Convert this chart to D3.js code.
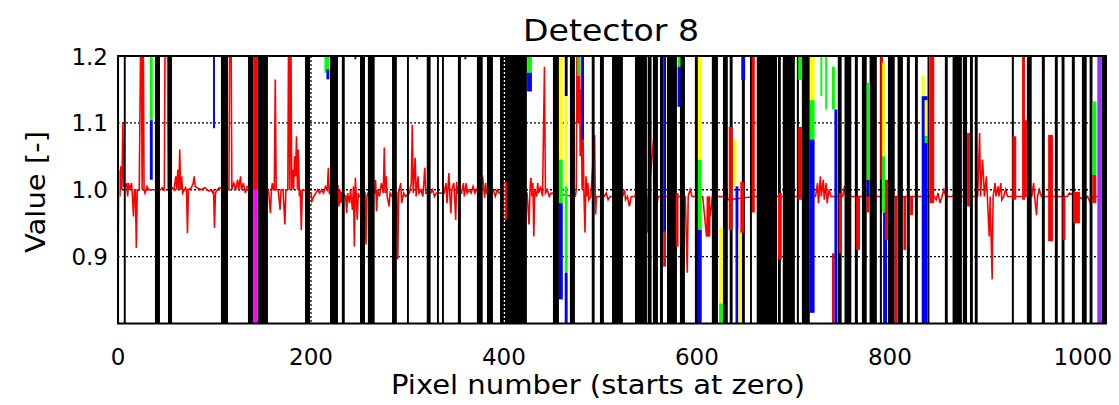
<!DOCTYPE html>
<html><head><meta charset="utf-8">
<script src="https://cdn.jsdelivr.net/npm/d3@7"></script>
<style>body{margin:0;background:#fff}svg{display:block}text{font-family:"DejaVu Sans",sans-serif;fill:#000}</style>
</head><body>
<svg id="c" width="1119" height="405"></svg>
<script>
const titleText = "Detector 8";
const xTitle = "Pixel number (starts at zero)";
const yTitle = "Value [-]";
const xTicks = [0, 200, 400, 600, 800, 1000];
const yTicks = [0.9, 1.0, 1.1, 1.2];
const yTickLabels = ["0.9", "1.0", "1.1", "1.2"];
const gridValues = [0.9, 1.0, 1.1];

// flagged pixel ranges drawn as black bars [start, end]
const badRanges = [[6,8],[38.3,43.5],[51.8,56],[106.7,114],[134.7,140],[145,155.4],[193.8,199],[219.7,228],[232,235],[250.8,256],[259,266],[284,289],[299.5,301.5],[320,324],[330.6,332.6],[335.8,337.8],[352.3,355.4],[372,378],[382.4,388.6],[395.9,423.8],[450.8,457],[468.4,473.6],[491,494],[499.5,503.6],[512,523.3],[535.8,548.2],[549,553],[554.4,559.6],[561.7,564.8],[569,579.3],[582.4,587.6],[597.9,601],[615.5,621.8],[627,632],[634,637],[646.6,649.7],[655,657],[662,683],[684,687],[689,701.5],[703.6,705.7],[708.8,717],[746,750],[753,760],[763.7,766.8],[771,776],[779,786.5],[789.6,791.7],[798,805],[808,813.5],[817.6,820.7],[826,829],[839,841],[857,860],[865,874.6],[875.6,880],[883,886],[888,891],[926.4,928.5],[942,947],[957.5,960.6],[971,974],[978,981],[988.6,991.7],[999,1004],[1007,1010],[1019.7,1024]];

// main (red) series: [pixel, value]
const redSeries = [[0,0.90],[1,1.03],[2,0.99],[3,1.035],[4,1.0],[5,1.1],[6,1.005],[8,1.005],[9,1.01],[10,0.99],[11,1.01],[12,1.0],[14,1.01],[15,0.99],[16,0.96],[17,1.0],[18,1.0],[19,0.913],[20,1.0],[22,1.0],[24,1.3],[25,1.0],[26,1.3],[27,1.0],[28,0.995],[30,1.005],[32,1.0],[37,1.0],[44,1.0],[46,1.003],[48,1.0],[49,1.3],[51,1.3],[52,1.0],[56,1.003],[58,1.0],[60,1.02],[61,1.0],[62,1.03],[63,1.0],[64,1.06],[65,1.0],[66,1.02],[67,0.995],[70,1.003],[71,1.0],[72,0.935],[73,1.0],[76,1.003],[78,1.01],[79,1.02],[80,1.005],[82,1.003],[86,1.0],[90,1.003],[94,0.998],[96,1.0],[98,0.996],[99,1.0],[100,0.943],[101,0.995],[103,1.0],[105,1.003],[115,1.0],[116,1.3],[117,1.3],[118,1.0],[120,1.01],[122,1.0],[124,1.015],[125,1.0],[127,1.02],[128,1.0],[130,1.01],[132,0.995],[134,1.005],[156,1.0],[158,0.965],[159,1.0],[160,1.01],[161,1.0],[162,1.0],[163,1.165],[164,1.0],[166,1.0],[168,0.97],[169,1.0],[171,1.0],[173,0.948],[174,1.0],[176,1.0],[177,1.3],[178,1.0],[179,1.3],[180,1.0],[181,1.03],[182,1.0],[183,1.05],[184,1.02],[185,1.08],[186,1.0],[187,1.06],[188,0.99],[189,1.0],[190,0.94],[191,1.0],[192,1.0],[200,0.995],[201,0.983],[203,0.99],[205,0.995],[207,1.0],[209,0.995],[211,1.0],[213,0.995],[215,1.005],[217,1.0],[218,1.033],[219,0.995],[228,1.005],[229,0.975],[230,1.0],[231,0.98],[232,0.995],[236,0.99],[237,0.965],[238,0.995],[240,0.98],[241,1.0],[243,0.97],[244,1.005],[245,0.915],[246,1.018],[247,0.99],[248,0.955],[249,0.995],[250,0.99],[256,0.995],[257,0.918],[258,0.99],[259,0.995],[266,0.995],[267,1.015],[268,0.968],[269,1.0],[271,0.99],[273,1.01],[275,0.995],[276,1.063],[277,0.995],[278,1.02],[279,0.99],[281,0.975],[282,0.995],[284,0.99],[289,0.995],[290,0.896],[291,0.995],[293,1.01],[294,0.98],[296,0.995],[298,0.99],[302,0.995],[304,1.01],[305,1.097],[306,0.995],[308,1.048],[309,0.99],[311,1.02],[312,0.995],[314,1.0],[316,0.99],[318,1.033],[319,0.995],[324,0.995],[326,1.0],[328,0.99],[330,0.995],[338,0.995],[340,1.01],[341,0.98],[343,1.025],[344,0.99],[345,0.965],[346,1.0],[348,1.01],[349,0.985],[350,0.955],[351,1.012],[352,0.995],[356,0.995],[358,1.01],[359,0.99],[361,1.01],[362,0.995],[364,1.0],[366,0.995],[368,1.005],[370,0.995],[378,1.018],[380,0.988],[381,1.01],[382,0.995],[389,1.0],[391,0.99],[393,1.0],[395,0.995],[424,0.995],[426,0.948],[427,1.0],[428,1.018],[429,0.99],[430,1.01],[431,0.93],[432,1.0],[434,0.99],[435,1.01],[436,0.995],[438,1.005],[440,0.99],[442,1.184],[443,0.995],[445,1.0],[447,0.99],[449,0.995],[474,0.99],[475,1.0],[476,1.3],[477,1.1],[478,1.3],[479,1.05],[480,1.15],[481,1.0],[482,1.08],[483,0.99],[484,0.936],[485,1.02],[486,0.99],[487,1.01],[488,0.985],[490,0.99],[494,1.082],[495,0.963],[496,0.99],[504,0.99],[506,0.995],[508,0.985],[510,0.99],[523,0.99],[525,1.0],[526,0.985],[528,0.99],[530,0.975],[532,0.99],[536,0.99],[538,1.007],[540,0.99],[544,0.915],[545,0.99],[548,0.995],[549,0.936],[550,0.99],[556,1.09],[558,0.975],[560,0.99],[588,0.99],[590,0.876],[591,0.99],[593,1.0],[595,0.99],[598,0.99],[606,0.99],[610,0.93],[612,0.99],[614,0.96],[616,0.99],[630,0.99],[631,1.0],[632,0.985],[660,0.99],[720,0.99],[723,0.99],[725,1.01],[726,0.98],[728,1.02],[729,0.99],[731,1.015],[732,0.985],[734,1.01],[735,0.98],[737,1.0],[739,0.99],[751,0.99],[753,1.005],[755,0.98],[757,0.99],[760,0.99],[776,0.99],[800,0.99],[846,0.99],[848,0.985],[850,0.995],[852,0.98],[854,0.99],[856,1.0],[858,0.99],[862,0.99],[891,0.99],[893,1.085],[894,0.99],[896,1.045],[897,1.02],[898,0.99],[900,1.02],[901,0.99],[903,0.93],[904,0.99],[906,0.866],[907,0.99],[909,1.01],[910,0.99],[912,1.005],[913,0.99],[915,1.01],[916,0.985],[918,0.99],[920,1.0],[922,0.99],[925,0.99],[947,0.99],[949,1.01],[950,0.99],[952,0.962],[953,0.99],[955,1.0],[957,0.99],[961,0.99],[972,0.99],[975,0.99],[984,0.99],[986,0.995],[1002,0.985],[1005,0.99],[1008,0.98],[1010,0.99],[1024,0.99]];

// other series drawn as vertical segments: [x0, x1, top, bottom, colour key]
const segments = [[-0.5,1.5,1.2,0.8,"Y"],[33,36,1.2,1.104,"G"],[33,36,1.104,1.015,"B"],[98.5,100.5,1.2,1.092,"B"],[140,145,1.2,1.0,"R"],[140,145,1.0,0.8,"M"],[214,219,1.2,1.175,"G"],[216,219,1.18,1.165,"B"],[245,247,1.2,1.195,"B"],[309,311,1.2,1.195,"B"],[359,361,1.2,1.195,"B"],[400,403,1.012,0.955,"R"],[424,429,1.2,1.175,"G"],[424,429,1.175,1.147,"B"],[457,461,1.2,1.045,"Y"],[457,461,1.045,0.98,"G"],[457,461,0.98,0.836,"B"],[463,466,1.2,1.14,"K"],[463,466,1.14,1.005,"Y"],[463,466,1.005,0.876,"G"],[463,466,0.876,0.8,"B"],[476,479,1.2,1.17,"G"],[480,483,1.2,1.075,"B"],[565,568,1.2,0.937,"B"],[565,568,0.937,0.885,"R"],[578,581,0.995,0.915,"R"],[580,583,1.2,1.184,"G"],[580,583,1.184,1.124,"B"],[601,605,1.2,1.045,"Y"],[601,605,1.045,0.94,"G"],[601,605,0.94,0.8,"B"],[610,614,0.99,0.93,"R"],[623,627,0.943,0.83,"Y"],[623,627,0.83,0.8,"G"],[633,637,1.094,0.94,"R"],[638,641,1.075,1.005,"Y"],[640,643,1.005,0.8,"B"],[643,646,0.94,0.8,"Y"],[645,649,1.012,0.936,"R"],[646,650,1.2,1.164,"B"],[657,660,1.3,0.966,"R"],[684,688,0.995,0.896,"R"],[705,709,1.2,1.164,"G"],[705,709,1.094,0.985,"R"],[717,722,1.2,1.134,"Y"],[717,722,1.134,1.075,"G"],[717,722,1.075,0.816,"B"],[728,730,1.2,1.14,"G"],[733,735,1.2,1.12,"G"],[740,743,1.184,1.12,"G"],[740,742.5,0.905,0.8,"R"],[742.5,745.5,1.12,0.8,"B"],[747,750,0.995,0.905,"R"],[765,769,0.99,0.91,"R"],[776,779,1.16,1.015,"G"],[776,779,1.015,0.99,"B"],[776,779,0.99,0.966,"R"],[790,793,1.3,1.015,"R"],[792,795,1.19,1.05,"Y"],[792,795,1.05,0.966,"G"],[793,797,0.966,0.8,"B"],[795,798,1.015,0.925,"R"],[805,808,0.99,0.8,"R"],[814,817,0.99,0.91,"R"],[821,824,0.99,0.962,"R"],[833,839,1.14,0.8,"B"],[833,836,1.17,1.14,"Y"],[836,839,1.134,1.08,"Y"],[836,839,1.08,1.07,"G"],[841,846,1.3,0.98,"R"],[861,863,1.2,1.197,"G"],[880,883,1.085,0.975,"R"],[927,931,1.08,0.985,"R"],[937,940,1.3,0.985,"R"],[939,942,1.104,0.99,"R"],[964,969,1.082,0.923,"R"],[979,982,0.99,0.925,"R"],[990,997,0.997,0.95,"R"],[1010,1014,1.132,1.022,"G"],[1010,1014,1.022,0.98,"R"],[1015,1019.7,1.2,0.8,"P"]];

const colourOf = {R:"#ff0000", G:"#00ff00", B:"#0000ff", Y:"#ffff00", M:"#ff00ff", P:"#9b30ff", K:"#000000"};

const svg = d3.select("#c");
const L = 118, R = 1106, T = 56, Bt = 323.5;
const x = d3.scaleLinear().domain([0, 1024]).range([L, R]);
const y = d3.scaleLinear().domain([0.8, 1.2]).range([Bt, T]);

svg.append("defs").append("clipPath").attr("id","clip")
  .append("rect").attr("x",L).attr("y",T).attr("width",R-L).attr("height",Bt-T);
const plot = svg.append("g").attr("clip-path","url(#clip)");

// grid
plot.selectAll("line.hg").data(gridValues).join("line")
  .attr("x1",L).attr("x2",R).attr("y1",d=>y(d)).attr("y2",d=>y(d))
  .attr("stroke","#000").attr("stroke-width",1.3).attr("stroke-dasharray","2,2");
plot.selectAll("line.vg").data(xTicks.slice(1)).join("line")
  .attr("x1",d=>x(d)).attr("x2",d=>x(d)).attr("y1",T).attr("y2",Bt)
  .attr("stroke","#000").attr("stroke-width",1.3).attr("stroke-dasharray","2,2");

// red series
plot.append("path").datum(redSeries)
  .attr("d", d3.line().x(d=>x(d[0])).y(d=>y(d[1])))
  .attr("fill","none").attr("stroke","#ff0000").attr("stroke-width",1.6);

// black bars
plot.selectAll("rect.bad").data(badRanges).join("rect")
  .attr("x",d=>x(d[0])).attr("width",d=>x(d[1])-x(d[0]))
  .attr("y",T).attr("height",Bt-T).attr("fill","#000");

// coloured segments
plot.selectAll("rect.seg").data(segments).join("rect")
  .attr("x",d=>x(d[0])).attr("width",d=>x(d[1])-x(d[0]))
  .attr("y",d=>y(Math.min(d[2],1.25))).attr("height",d=>y(d[3])-y(Math.min(d[2],1.25)))
  .attr("fill",d=>colourOf[d[4]]);

// white dotted grid line over the dense block at 400
plot.append("line").attr("x1",x(400.5)).attr("x2",x(400.5)).attr("y1",T).attr("y2",Bt)
  .attr("stroke","#fff").attr("stroke-width",1.3).attr("stroke-dasharray","2,2");

// frame
svg.append("rect").attr("x",L).attr("y",T).attr("width",R-L).attr("height",Bt-T)
  .attr("fill","none").attr("stroke","#000").attr("stroke-width",2);

// labels
svg.selectAll("text.xt").data(xTicks).join("text")
  .attr("x",d=>x(d)).attr("y",365).attr("text-anchor","middle")
  .style("font-size","23px").text(d=>d);
svg.selectAll("text.yt").data(yTicks).join("text")
  .attr("x",108).attr("y",d=>y(d)+8.5).attr("text-anchor","end")
  .style("font-size","23px").text((d,i)=>yTickLabels[i]);
svg.append("text").attr("x",611).attr("y",41).attr("text-anchor","middle")
  .style("font-size","30px").attr("textLength",176).attr("lengthAdjust","spacingAndGlyphs").text(titleText);
svg.append("text").attr("x",598).attr("y",394).attr("text-anchor","middle")
  .style("font-size","26px").attr("textLength",414).attr("lengthAdjust","spacingAndGlyphs").text(xTitle);
svg.append("text").attr("transform","translate(45,192) rotate(-90)").attr("text-anchor","middle")
  .style("font-size","26px").attr("textLength",122).attr("lengthAdjust","spacingAndGlyphs").text(yTitle);
</script>
</body></html>
